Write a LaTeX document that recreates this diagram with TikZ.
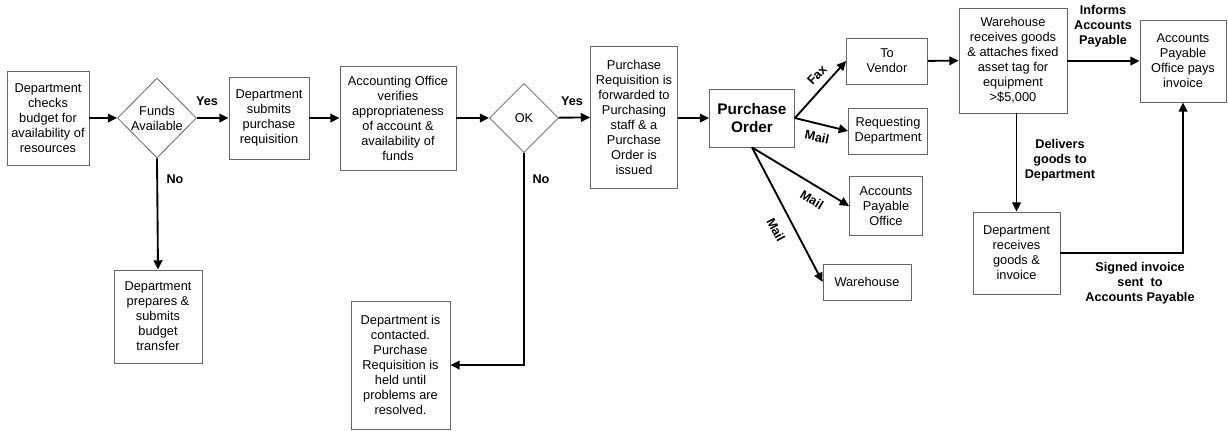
\documentclass[tikz,border=0pt]{standalone}
\usepackage{fontspec}
\setmainfont{Liberation Sans}
\usetikzlibrary{arrows.meta,shapes.geometric}

\begin{document}
\begin{tikzpicture}[
	x=0.75pt, y=-0.75pt,
	box/.style={draw=black!60, line width=0.6pt, rectangle, align=center, inner sep=1pt, fill=white,
		font=\fontsize{9.6}{11.25}\selectfont},
	decision/.style={draw=black!60, line width=0.6pt, diamond, align=center, inner sep=0pt, fill=white,
		font=\fontsize{9.6}{11.25}\selectfont},
	lab/.style={align=center, inner sep=0pt, font=\bfseries\fontsize{9.5}{11.25}\selectfont},
	connect/.style={-{Triangle[length=7pt,width=6.5pt]}, line width=1.4pt}
	]
	
	\useasboundingbox (0,0) rectangle (1228,430);
	
	%-----------------------
	% Budget check and requisition
	%-----------------------
	\node[box, minimum width=61.5pt, minimum height=70.5pt] (check) at (48,118)
		{Department\\checks\\budget for\\availability of\\resources};
	\node[decision, minimum width=59.25pt, minimum height=60pt] (funds) at (157,118)
		{Funds\\Available};
	\node[box, minimum width=60pt, minimum height=61.5pt] (submit) at (269,118)
		{Department\\submits\\purchase\\requisition};
	\node[box, minimum width=87pt, minimum height=78pt] (verify) at (398,118)
		{Accounting Office\\verifies\\appropriateness\\of account \&\\availability of\\funds};
	\node[decision, minimum width=51.75pt, minimum height=51.75pt] (ok) at (524,118) {OK};
	\node[box, minimum width=65.25pt, minimum height=106.5pt] (forward) at (634,117)
		{Purchase\\Requisition is\\forwarded to\\Purchasing\\staff \& a\\Purchase\\Order is\\issued};
	
	%-----------------------
	% Negative branches
	%-----------------------
	\node[box, minimum width=66pt, minimum height=69.75pt] (transfer) at (158,316.5)
		{Department\\prepares \&\\submits\\budget\\transfer};
	\node[box, minimum width=74.25pt, minimum height=96pt] (contacted) at (400.5,365)
		{Department is\\contacted.\\Purchase\\Requisition is\\held until\\problems are\\resolved.};
	
	%-----------------------
	% Purchase order and its copies
	%-----------------------
	\node[box, minimum width=63.75pt, minimum height=43.5pt,
		font=\bfseries\fontsize{11.5}{13.5}\selectfont] (po) at (752,118) {Purchase\\Order};
	\node[box, minimum width=60.75pt, minimum height=34.5pt] (vendor) at (887,61) {To\\Vendor};
	\node[box, minimum width=59.25pt, minimum height=34.5pt] (reqdept) at (888,131) {Requesting\\Department};
	\node[box, minimum width=54.75pt, minimum height=44.25pt] (apoffice) at (886,206) {Accounts\\Payable\\Office};
	\node[box, minimum width=66pt, minimum height=27pt] (warehouse) at (867,282) {Warehouse};
	
	%-----------------------
	% Receiving and payment
	%-----------------------
	\node[box, minimum width=81pt, minimum height=78.75pt] (receive) at (1013,60.5)
		{Warehouse\\receives goods\\\& attaches fixed\\asset tag for\\equipment\\>\$5,000};
	\node[box, minimum width=64.5pt, minimum height=61.5pt] (pay) at (1183,61)
		{Accounts\\Payable\\Office pays\\invoice};
	\node[box, minimum width=65.25pt, minimum height=61.5pt] (deptrecv) at (1016.5,253)
		{Department\\receives\\goods \&\\invoice};
	
	%-----------------------
	% Connector labels
	%-----------------------
	\node[lab] (yesA) at (207,101) {Yes};
	\node[lab] (noA) at (175,179) {No};
	\node[lab] (yesB) at (572,101) {Yes};
	\node[lab] (noB) at (541,179) {No};
	\node[lab, rotate=47] (fax) at (817,75) {Fax};
	\node[lab, rotate=-12] (mailA) at (817,137) {Mail};
	\node[lab, rotate=-31] (mailB) at (812,200) {Mail};
	\node[lab, rotate=-62] (mailC) at (776,230) {Mail};
	\node[lab] (informs) at (1103,26) {Informs\\Accounts\\Payable};
	\node[lab] (delivers) at (1060,160) {Delivers\\goods to\\Department};
	\node[lab] (signed) at (1140,283) {Signed invoice\\sent\ \ to\\Accounts Payable};
	
	%-----------------------
	% Connections
	%-----------------------
	\draw[connect] (check) -- (funds);
	\draw[connect] (funds) -- (submit);
	\draw[connect] (funds.south) -- (transfer.north);
	\draw[connect] (submit) -- (verify);
	\draw[connect] (verify) -- (ok);
	\draw[connect] (ok) -- (forward);
	\draw[connect] (ok.south) |- (contacted.east);
	\draw[connect] (forward.east |- po.east) -- (po.west);
	
	% copies of the purchase order
	\draw[connect] (po.east) -- (vendor.west);
	\draw[connect] (po.east) -- (reqdept.west);
	\draw[connect] (po.south) -- (apoffice.west);
	\draw[connect] (po.south) -- (warehouse.west);
	
	% goods and invoice
	\draw[connect] (vendor) -- (receive);
	\draw[connect] (receive.east |- pay.west) -- (pay.west);
	\draw[connect] (deptrecv.north |- receive.south) -- (deptrecv.north);
	\draw[connect] (deptrecv.east) -| (pay.south);
	
\end{tikzpicture}
\end{document}
